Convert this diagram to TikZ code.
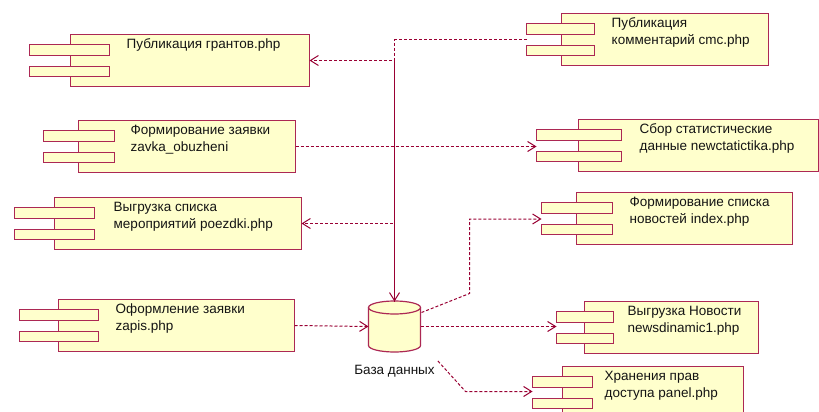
\documentclass[tikz,border=0pt]{standalone}
\usepackage{fontspec}
\setmainfont{Liberation Sans}
\usetikzlibrary{arrows.meta,calc,fit}
\definecolor{cfill}{RGB}{255,255,204}
\definecolor{cborder}{RGB}{172,40,84}
\definecolor{dcol}{RGB}{153,0,51}
\definecolor{ctext}{RGB}{20,20,20}
\tikzset{
  cbox/.style={draw=cborder, fill=cfill, line width=1.2pt, inner sep=0pt, outer sep=0pt},
  ctab/.style={draw=cborder, fill=cfill, line width=1.2pt, inner sep=0pt, outer sep=0pt},
  ctxt/.style={anchor=base west, inner sep=0pt, text=ctext, font=\fontsize{13.5}{17}\selectfont},
  dep/.style={draw=dcol, line width=1pt, dash pattern=on 3pt off 2pt,
    -{Straight Barb[length=8pt,width=10pt,line width=1pt]}},
}
\newcommand\comp[9]{%
  \node[cbox, fit={(#2,#3) (#4,#3+52)}] (#1) {};
  \node[ctab, fit={(#5,#3+10) (#6,#3+21)}] (#1t1) {};
  \node[ctab, fit={(#5,#3+32) (#6,#3+42)}] (#1t2) {};
  \coordinate (#1p) at ($(#1t1.south west)!0.5!(#1t2.north west)$);
  \node[ctxt] (#1l1) at (#7,#3+14) {#8};
  \node[ctxt] (#1l2) at (#7,#3+31) {#9};
}
\begin{document}
\begin{tikzpicture}[x=1pt,y=-1pt]
\useasboundingbox (0,0) rectangle (819,412);
\clip (0,0) rectangle (819,412);
\fill[white] (0,0) rectangle (819,412);
\begin{scope}[shift={(0.5,0.5)}]
\comp{gr}{70}{34}{309}{29}{109}{126}{Публикация грантов.php}{}
\comp{cmc}{561}{13}{768}{526}{594}{611}{Публикация}{комментарий cmc.php}
\comp{zav}{78}{120}{295}{43}{114}{130}{Формирование заявки}{zavka\_obuzheni}
\comp{stat}{578}{119}{818}{536}{621}{639}{Сбор статистические}{данные newctatictika.php}
\comp{poe}{54}{197}{301}{14}{94}{113}{Выгрузка списка}{мероприятий poezdki.php}
\comp{idx}{576}{192}{792}{541}{612}{629}{Формирование списка}{новостей index.php}
\comp{zap}{58}{299}{294}{19}{98}{115}{Оформление заявки}{zapis.php}
\comp{nws}{584}{301}{758}{556}{613}{627}{Выгрузка Новости}{newsdinamic1.php}
\comp{pan}{562}{366}{743}{532}{592}{604}{Хранения прав}{доступа panel.php}

% database
\node[inner sep=0pt, outer sep=0pt, fit={(368,301) (420,351)}] (db) {};
\fill[cfill] (368,307) -- (368,345) arc[start angle=180,end angle=0,x radius=26,y radius=6.5]
  -- (420,307) arc[start angle=0,end angle=-180,x radius=26,y radius=6.5] -- cycle;
\draw[cborder, line width=1.2pt] (368,307) -- (368,345) arc[start angle=180,end angle=0,x radius=26,y radius=6.5] -- (420,307);
\draw[cborder, line width=1.2pt] (394,307) ellipse[x radius=26, y radius=6.5];
\node[anchor=base, inner sep=0pt, text=ctext, font=\fontsize{13.5}{17}\selectfont] (dblab) at (394,374) {База данных};

% connectors
\draw[dep] (cmcp) -| (db.north);
\draw[dep, dash phase=1pt] (db.north) |- (gr.east);
\draw[dep] (db.north) |- (poe.east);
\draw[dep] (zav.east) -- (zav.east -| statp);
\draw[dep] (zap.east) -- (db.west);
\draw[dep] (db.east) -- (db.east -| nwsp);
\coordinate (k1) at (469,293);
\draw[dep] ($(db.north east)+(1,11)$) -- (k1) |- (idxp);
\coordinate (k2) at (465,391);
\draw[dep] ($(dblab.north east)+(3,-4)$) -- (k2) -- (k2 -| panp);
\end{scope}
\end{tikzpicture}
\end{document}
